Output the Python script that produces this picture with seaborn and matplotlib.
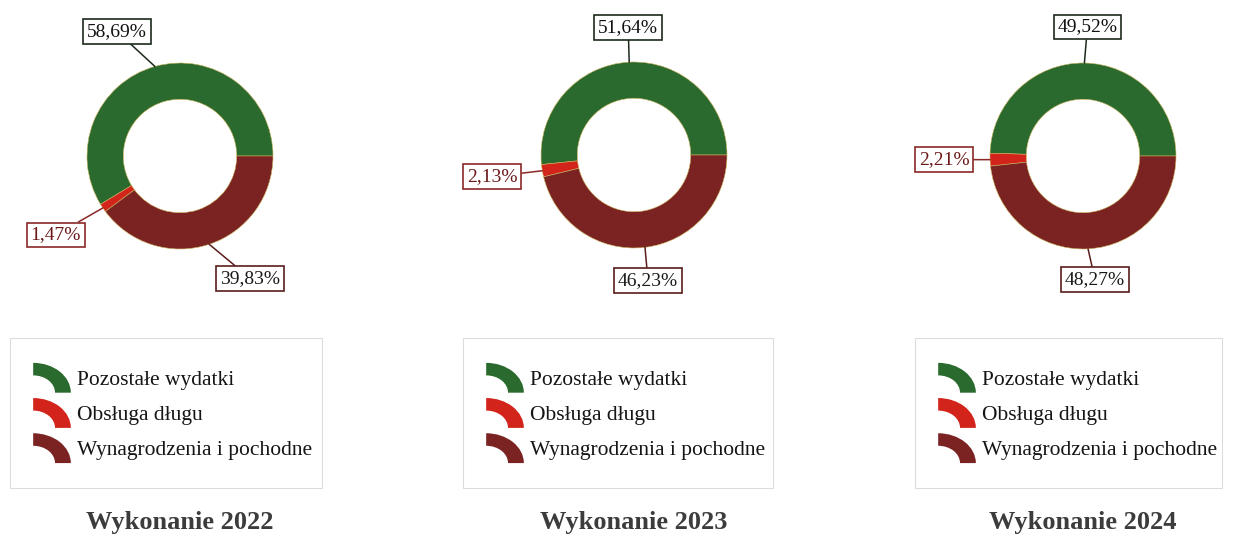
import numpy as np
import matplotlib
matplotlib.use("Agg")
import matplotlib.pyplot as plt
import seaborn as sns
from matplotlib.patches import Wedge, Patch
from matplotlib.legend_handler import HandlerBase
from matplotlib.transforms import Affine2D

# data
years = ["2022", "2023", "2024"]
categories = ["Pozostałe wydatki", "Obsługa długu", "Wynagrodzenia i pochodne"]
pozostale = [58.69, 51.64, 49.52]
obsluga = [1.47, 2.13, 2.21]
wynagrodzenia = [39.83, 46.23, 48.27]

colors = ["#2b6a2f", "#d3241c", "#7b2323"]
box_edges = ["#1c2a1c", "#8b2727", "#5a1c1c"]
text_colors = ["#111111", "#6a1818", "#1a1a1a"]

sns.set_theme(style="white")
plt.rcParams["font.family"] = ["Liberation Serif", "DejaVu Serif"]

W, H = 1239, 538
fig = plt.figure(figsize=(W / 100, H / 100), dpi=100)
ax = fig.add_axes([0, 0, 1, 1])
ax.set_xlim(0, W)
ax.set_ylim(0, H)
ax.set_axis_off()

# layout (pixel positions, y measured from top)
centers = [(180, 156), (634, 155), (1083, 156)]
radius = 93
ring_width = 0.39
label_offsets = [
    [(-38, -35), (-47, 27), (41, 34)],
    [(-1, -35), (-50, 6), (3, 33)],
    [(3, -36), (-46, 0), (7, 31)],
]
legend_x = [(10, 322), (463, 773), (915, 1222)]
legend_top = 338
title_y = 522


class ArcHandler(HandlerBase):
    def create_artists(self, legend, orig_handle, xdescent, ydescent,
                       width, height, fontsize, trans):
        w = Wedge((0, 0), 1, 0, 90, width=0.42,
                  facecolor=orig_handle.get_facecolor(), edgecolor="none")
        h = height * 1.2
        t = Affine2D().scale(width, h).translate(-xdescent - 3, -ydescent + height / 2 - h / 2) + trans
        w.set_transform(t)
        return [w]


for i, year in enumerate(years):
    vals = [pozostale[i], obsluga[i], wynagrodzenia[i]]
    cx, cy = centers[i]
    cyd = H - cy
    wedges, _ = ax.pie(vals, colors=colors, startangle=0, counterclock=True,
                       center=(cx, cyd), radius=radius,
                       wedgeprops=dict(width=radius * ring_width, edgecolor="#c9b25a", linewidth=0.4))
    ax.set_xlim(0, W)
    ax.set_ylim(0, H)
    ax.set_aspect("equal")

    for j, wdg in enumerate(wedges):
        mid = np.deg2rad((wdg.theta1 + wdg.theta2) / 2)
        px = cx + radius * np.cos(mid)
        py = cyd + radius * np.sin(mid)
        dx, dy = label_offsets[i][j]
        txt = f"{vals[j]:.2f}".replace(".", ",") + "%"
        ax.annotate(txt, xy=(px, py), xytext=(px + dx, py - dy),
                    ha="center", va="center", fontsize=14, color=text_colors[j],
                    bbox=dict(boxstyle="square,pad=0.2", facecolor="white",
                              edgecolor=box_edges[j], linewidth=1.2),
                    arrowprops=dict(arrowstyle="-", color=box_edges[j], lw=1.1,
                                    shrinkA=0, shrinkB=0))

    handles = [Patch(facecolor=c) for c in colors]
    x0, x1 = legend_x[i]
    leg = fig.legend(handles, categories, loc="upper left",
                     bbox_to_anchor=(x0 / W, 1 - legend_top / H, (x1 - x0) / W, 0),
                     mode="expand", borderaxespad=0, fontsize=15.5, frameon=True,
                     fancybox=False, edgecolor="#d4d4d4", borderpad=1.27,
                     labelspacing=0.48, handlelength=1.75, handleheight=1.4,
                     handletextpad=0.1, handler_map={Patch: ArcHandler()})
    leg.get_frame().set_linewidth(0.8)
    for t in leg.get_texts():
        t.set_color("#151515")

    ax.text(cx, H - title_y, f"Wykonanie {year}", ha="center", va="center",
            fontsize=19, fontweight="bold", color="#3c3c3c")

fig.savefig("out.png", dpi=100)
